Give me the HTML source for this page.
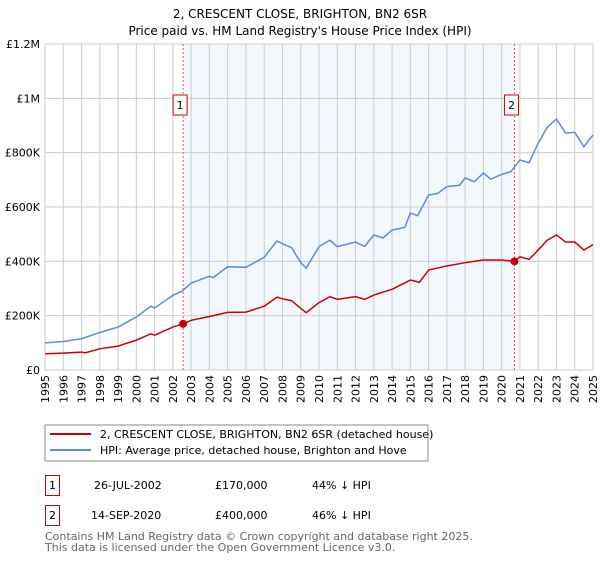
<!DOCTYPE html>
<html><head><meta charset="utf-8"><style>
body{margin:0;background:#fff;font-family:"DejaVu Sans","Liberation Sans",sans-serif}
svg text{font-family:"DejaVu Sans","Liberation Sans",sans-serif}
</style></head><body>
<svg id="c" width="600" height="560" xmlns="http://www.w3.org/2000/svg">
<text x="300" y="18" text-anchor="middle" font-size="12">2, CRESCENT CLOSE, BRIGHTON, BN2 6SR</text>
<text x="300" y="35" text-anchor="middle" font-size="12">Price paid vs. HM Land Registry's House Price Index (HPI)</text>
<g id="plot"></g>
<rect x="45" y="425" width="383" height="36" fill="#fff" stroke="#888"/>
<line x1="50" y1="434" x2="91" y2="434" stroke="#cc0000" stroke-width="2"/>
<text x="100" y="438" font-size="11">2, CRESCENT CLOSE, BRIGHTON, BN2 6SR (detached house)</text>
<line x1="50" y1="450" x2="91" y2="450" stroke="#5b8ed6" stroke-width="2"/>
<text x="100" y="454" font-size="11">HPI: Average price, detached house, Brighton and Hove</text>
<rect x="45.5" y="475.5" width="14" height="20" fill="none" stroke="#cc0000"/>
<text x="52.5" y="489" text-anchor="middle" font-size="11">1</text>
<text x="94" y="489" font-size="11">26-JUL-2002</text>
<text x="215" y="489" font-size="11">£170,000</text>
<text x="312" y="489" font-size="11">44% ↓ HPI</text>
<rect x="45.5" y="505.5" width="14" height="20" fill="none" stroke="#cc0000"/>
<text x="52.5" y="519" text-anchor="middle" font-size="11">2</text>
<text x="91" y="519" font-size="11">14-SEP-2020</text>
<text x="215" y="519" font-size="11">£400,000</text>
<text x="312" y="519" font-size="11">46% ↓ HPI</text>
<text x="45" y="540" font-size="11" fill="#666">Contains HM Land Registry data © Crown copyright and database right 2025.</text>
<text x="45" y="551" font-size="11" fill="#666">This data is licensed under the Open Government Licence v3.0.</text>
</svg>
<script>
const hpiYears=[1995,1996,1997,1998,1999,2000,2000.8,2001,2002,2002.5,2003,2004,2004.2,2005,2006,2007,2007.7,2008,2008.5,2009,2009.3,2010,2010.6,2011,2012,2012.5,2013,2013.5,2014,2014.7,2015,2015.4,2016,2016.5,2017,2017.7,2018,2018.5,2019,2019.4,2020,2020.5,2021,2021.5,2022,2022.5,2023,2023.5,2024,2024.5,2025];
const hpiValues=[100,105,115,138,158,195,235,228,275,290,320,345,340,380,378,415,475,465,450,395,375,454,478,454,471,455,497,486,515,525,578,568,644,650,675,680,707,693,725,703,720,730,773,763,835,894,924,872,875,822,865];
const propYears=[1995,1996,1997,1997.2,1998,1999,2000,2000.8,2001,2002,2002.56,2003,2004,2005,2006,2007,2007.7,2008,2008.5,2009,2009.3,2010,2010.6,2011,2012,2012.5,2013,2014,2015,2015.5,2016,2017,2018,2019,2020,2020.7,2021,2021.5,2022,2022.5,2023,2023.5,2024,2024.5,2025];
const propValues=[60,62,66,63,78,88,110,133,128,158,170,183,197,212,213,235,268,262,255,227,211,248,270,260,270,260,276,297,331,323,368,383,395,405,405,400,417,407,442,478,497,471,471,442,461];
const saleYears=[2002.56,2020.7];
const saleValues=[170,400];
const saleLabels=["1","2"];
const yTicks=[0,200,400,600,800,1000,1200];
const yTickLabels=["£0","£200K","£400K","£600K","£800K","£1M","£1.2M"];
const xTicks=[1995,1996,1997,1998,1999,2000,2001,2002,2003,2004,2005,2006,2007,2008,2009,2010,2011,2012,2013,2014,2015,2016,2017,2018,2019,2020,2021,2022,2023,2024,2025];

const X0=45,X1=593,Y0=370,Y1=44;
const xs=y=>X0+(y-1995)/30*(X1-X0);
const ys=v=>Y0-v/1200*(Y0-Y1);
const NS="http://www.w3.org/2000/svg";
const g=document.getElementById('plot');
function mk(t,a){const e=document.createElementNS(NS,t);for(const k in a)e.setAttribute(k,a[k]);g.appendChild(e);return e;}

const sh=mk('rect',{x:xs(saleYears[0]),y:Y1,width:xs(saleYears[1])-xs(saleYears[0]),height:Y0-Y1,fill:'#f3f7fe'});


xTicks.forEach(t=>{
  const l=mk('line',{x1:xs(t),x2:xs(t),y1:Y1,y2:Y0,stroke:'#ccc','stroke-width':1});
  
  
  const px=xs(t)+4,py=Y0+5;
  const tx=mk('text',{x:px,y:py,'font-size':11,'text-anchor':'end',transform:'rotate(-90 '+px+' '+py+')'});
  tx.textContent=t;
  
  
});
yTicks.forEach((t,i)=>{
  const l=mk('line',{x1:X0,x2:X1,y1:ys(t),y2:ys(t),stroke:'#ccc','stroke-width':1});
  
  
  const tx=mk('text',{x:40,y:ys(t)+4,'font-size':11,'text-anchor':'end'});
  tx.textContent=yTickLabels[i];
  
  
});
const hp=mk('polyline',{points:hpiYears.map((y,i)=>xs(y)+','+ys(hpiValues[i])).join(' '),fill:'none',stroke:'#5b8ed6','stroke-width':1.5});


const pp=mk('polyline',{points:propYears.map((y,i)=>xs(y)+','+ys(propValues[i])).join(' '),fill:'none',stroke:'#cc0000','stroke-width':1.5});


saleYears.forEach((y,i)=>{
  const l=mk('line',{x1:xs(y),x2:xs(y),y1:Y1,y2:Y0,stroke:'#e55','stroke-width':1,'stroke-dasharray':'2,2'});
  
  
  const c=mk('circle',{cx:xs(y),cy:ys(saleValues[i]),r:4,fill:'#cc0000'});
  
  
  const b=mk('rect',{x:xs(y)-10,y:95,width:14,height:20,fill:'#fff',stroke:'#cc0000'});
  
  
  const t=mk('text',{x:xs(y)-3,y:109,'font-size':11,'text-anchor':'middle'});
  t.textContent=saleLabels[i];
  
  
});
</script>
</body></html>
